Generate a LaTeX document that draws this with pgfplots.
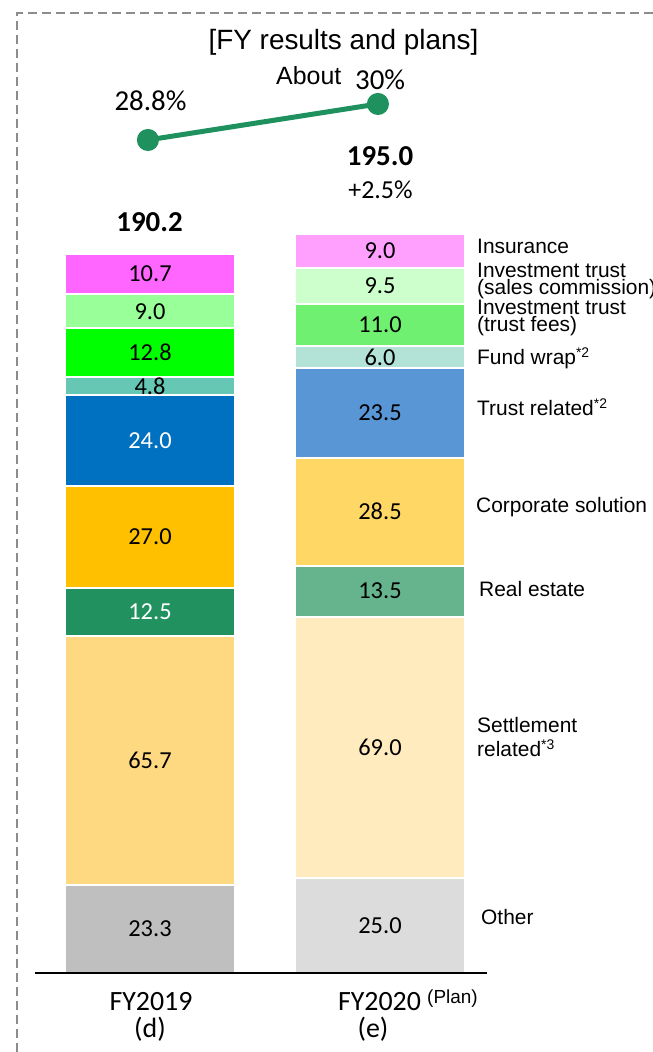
\documentclass[border=0pt]{standalone}
\usepackage{pgfplots}
\pgfplotsset{compat=1.18}
\usepackage{fontspec}
\setmainfont{Carlito}
\newfontfamily\arial{Liberation Sans}
% left bar (FY2019) colours
\definecolor{LOther}{HTML}{BFBFBF}
\definecolor{LSettle}{HTML}{FFD982}
\definecolor{LReal}{HTML}{20915F}
\definecolor{LCorp}{HTML}{FFC000}
\definecolor{LTrust}{HTML}{0070C0}
\definecolor{LFund}{HTML}{66C8B4}
\definecolor{LITfee}{HTML}{00FF00}
\definecolor{LITsal}{HTML}{99FF99}
\definecolor{LIns}{HTML}{FF66FF}
% right bar (FY2020 plan) colours
\definecolor{ROther}{HTML}{DCDCDC}
\definecolor{RSettle}{HTML}{FFEBBE}
\definecolor{RReal}{HTML}{66B48E}
\definecolor{RCorp}{HTML}{FFD764}
\definecolor{RTrust}{HTML}{5896D6}
\definecolor{RFund}{HTML}{B3E3D6}
\definecolor{RITfee}{HTML}{70F070}
\definecolor{RITsal}{HTML}{CCFFCC}
\definecolor{RIns}{HTML}{FFA0FF}
\definecolor{cLine}{HTML}{1F915F}
\definecolor{cBorder}{HTML}{8C8C8C}
\pgfplotsset{
  barax/.style={
    at={(35bp,79bp)}, anchor=south west, scale only axis, width=452bp, height=758bp,
    xmin=-0.5, xmax=1.46522, ymin=0, ymax=200, hide axis, clip=false,
    ybar stacked, bar width=170bp,
    point meta=rawy,
    nodes near coords={\pgfmathprintnumber[fixed,fixed zerofill,precision=1,assume math mode=true]{\pgfplotspointmeta}},
    every node near coord/.append style={anchor=center, font=\fontsize{24.5}{24.5}\selectfont, text=black, inner sep=0pt},
    every axis plot/.append style={draw=white, line width=2bp},
  },
  wlab/.style={every node near coord/.append style={text=white}},
}
\begin{document}
\begin{tikzpicture}[x=1bp,y=1bp]
\useasboundingbox (0,0) rectangle (653,1052);
% dashed frame
\draw[cBorder, line width=2bp, dash pattern=on 9bp off 5bp] (17,0) -- (17,1039) -- (660,1039);
% FY2019 bar
\begin{axis}[barax]
\addplot[fill=LOther] coordinates {(0,23.3)};
\addplot[fill=LSettle] coordinates {(0,65.7)};
\addplot[fill=LReal, wlab] coordinates {(0,12.5)};
\addplot[fill=LCorp] coordinates {(0,27.0)};
\addplot[fill=LTrust, wlab] coordinates {(0,24.0)};
\addplot[fill=LFund] coordinates {(0,4.8)};
\addplot[fill=LITfee] coordinates {(0,12.8)};
\addplot[fill=LITsal] coordinates {(0,9.0)};
\addplot[fill=LIns] coordinates {(0,10.7)};
\end{axis}
% FY2020 (plan) bar
\begin{axis}[barax]
\addplot[fill=ROther] coordinates {(1,25.0)};
\addplot[fill=RSettle] coordinates {(1,69.0)};
\addplot[fill=RReal] coordinates {(1,13.5)};
\addplot[fill=RCorp] coordinates {(1,28.5)};
\addplot[fill=RTrust] coordinates {(1,23.5)};
\addplot[fill=RFund] coordinates {(1,6.0)};
\addplot[fill=RITfee] coordinates {(1,11.0)};
\addplot[fill=RITsal] coordinates {(1,9.5)};
\addplot[fill=RIns] coordinates {(1,9.0)};
\end{axis}
% ratio line
\begin{axis}[at={(35bp,852bp)}, anchor=south west, scale only axis, width=452bp, height=100bp,
  xmin=-0.5, xmax=1.46522, ymin=26.8, ymax=30.13333, hide axis, clip=false]
\addplot[color=cLine, line width=5bp, mark=*, mark size=8.5bp, mark options={solid, fill=cLine}] coordinates {(-0.009,28.8) (0.991,30)};
\end{axis}
% baseline
\draw[line width=2bp] (35,79) -- (487,79);
% texts
\node[anchor=base, inner sep=0pt] at (343.5,1002) {\arial\fontsize{28}{28}\selectfont [FY results and plans]};
\node[anchor=base west, inner sep=0pt] at (276,967) {\arial\fontsize{25}{25}\selectfont About};
\node[anchor=base west, inner sep=0pt] at (355,962) {\fontsize{29}{29}\selectfont 30\%};
\node[anchor=base, inner sep=0pt] at (150.5,941) {\fontsize{29}{29}\selectfont 28.8\%};
\node[anchor=base, inner sep=0pt] at (149.5,820) {\fontsize{29}{29}\selectfont\bfseries 190.2};
\node[anchor=base, inner sep=0pt] at (380,886) {\fontsize{29}{29}\selectfont\bfseries 195.0};
\node[anchor=base, inner sep=0pt] at (380.5,853) {\fontsize{26}{26}\selectfont +2.5\%};
% category labels
\node[anchor=base, inner sep=0pt] at (151,41) {\fontsize{28}{28}\selectfont FY2019};
\node[anchor=base, inner sep=0pt] at (150,14) {\fontsize{28}{28}\selectfont (d)};
\node[anchor=base, inner sep=0pt] at (379.5,41) {\fontsize{28}{28}\selectfont FY2020};
\node[anchor=base west, inner sep=0pt] at (427,48) {\arial\fontsize{19}{19}\selectfont (Plan)};
\node[anchor=base, inner sep=0pt] at (373,14) {\fontsize{28}{28}\selectfont (e)};
% segment names
\begin{scope}[every node/.style={anchor=base west, inner sep=0pt, font=\arial\fontsize{21}{21}\selectfont}]
\node at (477,798) {Insurance};
\node at (477,774) {Investment trust};
\node at (477,757) {(sales commission)};
\node at (477,737) {Investment trust};
\node at (477,720) {(trust fees)};
\node at (477,687) {Fund wrap{\fontsize{14}{14}\selectfont\raisebox{7bp}{*2}}};
\node at (477,636) {Trust related{\fontsize{14}{14}\selectfont\raisebox{7bp}{*2}}};
\node at (476,539) {Corporate solution};
\node at (479,455) {Real estate};
\node at (477,319) {Settlement};
\node at (477,295) {related{\fontsize{14}{14}\selectfont\raisebox{7bp}{*3}}};
\node at (481,127) {Other};
\end{scope}
\end{tikzpicture}
\end{document}
